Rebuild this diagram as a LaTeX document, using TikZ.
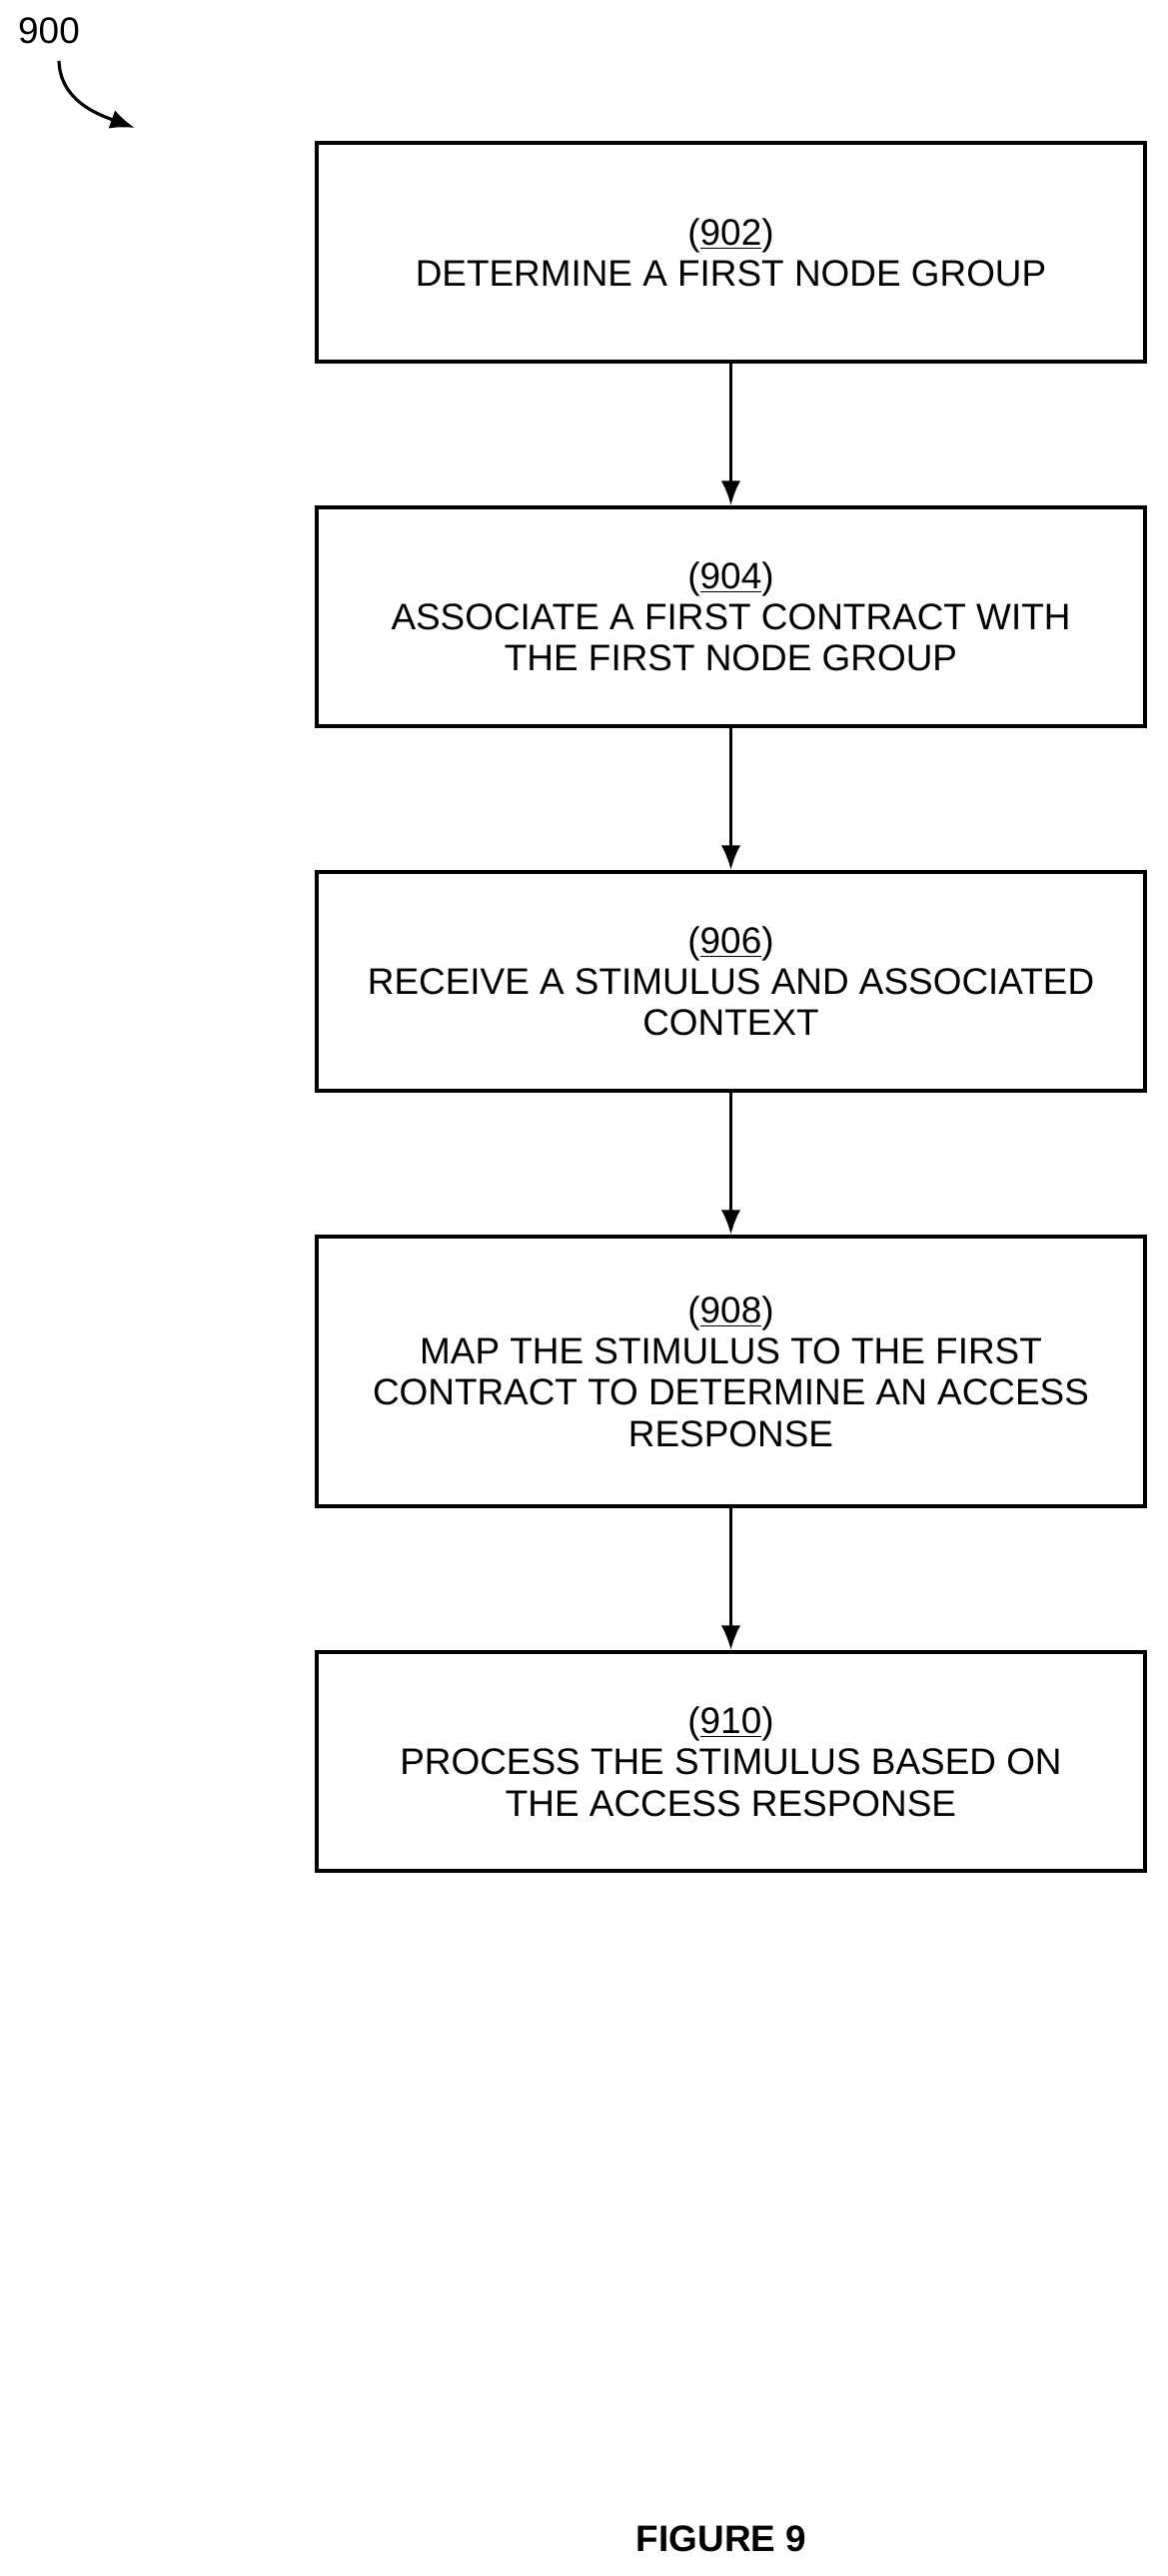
\documentclass[tikz,border=0pt]{standalone}
\usepackage{fontspec}
\setmainfont{Liberation Sans}
\usetikzlibrary{arrows.meta}
\tikzset{>=Latex}
\tikzstyle{stepbox}=[draw,line width=2.2pt,minimum width=16.58cm,align=center,
                     font=\fontsize{21}{23.5}\selectfont,inner sep=0pt]
\tikzstyle{flow}=[->,line width=1.8pt,{Latex[length=14pt,width=11pt]}-{}]
\begin{document}
\begin{tikzpicture}
  \useasboundingbox (0,0) rectangle (23.38,-51.58);
  \def\X{14.63} % box centre x

  % LABEL
  \node[font=\fontsize{21}{23.5}\selectfont] (lbl) at (0.98,-0.62) {900};
  \coordinate (lblstart) at (1.18,-1.22);
  \coordinate (lblend) at (2.7,-2.56);
  \draw[-{Latex[length=14pt,width=11pt]},line width=1.8pt] (lblstart) to[out=-88,in=160] (lblend);

  % STEPS
  \node[stepbox,minimum height=4.38cm] (s902) at (\X,-5.05)
    {(\underline{902})\\DETERMINE A FIRST NODE GROUP};
  \node[stepbox,minimum height=4.38cm] (s904) at (\X,-12.35)
    {(\underline{904})\\ASSOCIATE A FIRST CONTRACT WITH\\THE FIRST NODE GROUP};
  \node[stepbox,minimum height=4.38cm] (s906) at (\X,-19.65)
    {(\underline{906})\\RECEIVE A STIMULUS AND ASSOCIATED\\CONTEXT};
  \node[stepbox,minimum height=5.4cm] (s908) at (\X,-27.46)
    {(\underline{908})\\MAP THE STIMULUS TO THE FIRST\\CONTRACT TO DETERMINE AN ACCESS\\RESPONSE};
  \node[stepbox,minimum height=4.38cm] (s910) at (\X,-35.27)
    {(\underline{910})\\PROCESS THE STIMULUS BASED ON\\THE ACCESS RESPONSE};

  % ARROWS
  \foreach \a/\b in {s902/s904,s904/s906,s906/s908,s908/s910}
    \draw[-{Latex[length=14pt,width=11pt]},line width=1.8pt] (\a) -- (\b);

  \node[font=\bfseries\fontsize{21}{23.5}\selectfont] (fig) at (14.44,-50.84) {FIGURE 9};
\end{tikzpicture}
\end{document}
